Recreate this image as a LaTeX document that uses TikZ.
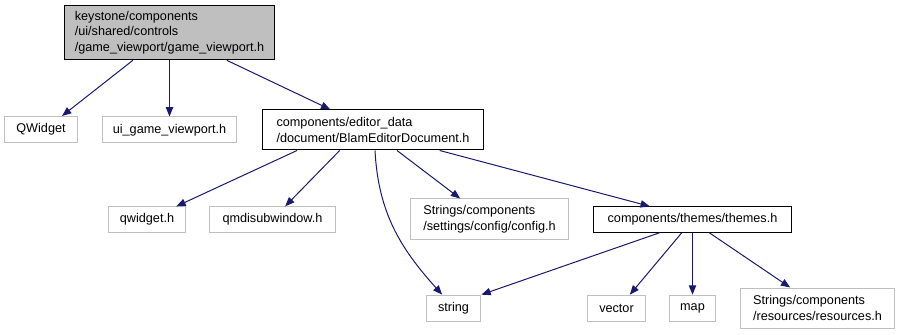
\documentclass[tikz,border=0pt]{standalone}
\usepackage{fontspec}
\setmainfont{Liberation Sans}
\usepackage{xcolor}
\definecolor{edgeblue}{RGB}{25,25,112}
\definecolor{boxgray}{RGB}{191,191,191}
\usetikzlibrary{arrows.meta,positioning}

\begin{document}
\begin{tikzpicture}[x=0.75pt, y=-0.75pt,
    filebox/.style={rectangle, draw=black, line width=0.75pt, inner sep=0pt, align=left,
                    font=\fontsize{9.5}{11.6}\selectfont},
    extbox/.style={filebox, draw=boxgray},
    dep/.style={-{Triangle[length=7pt,width=5.5pt]}, edgeblue, line width=0.75pt}
  ]
    \useasboundingbox (0,0) rectangle (901,335);

    % Top level file
    \node[filebox, fill=boxgray, minimum width=158pt, minimum height=41pt] (root) at (169.5,32.5)
      {keystone/components\\/ui/shared/controls\\/game\_viewport/game\_viewport.h};

    % First row
    \node[extbox, minimum width=55pt, minimum height=19.5pt]  (qwidget) at (41,129.5) {QWidget};
    \node[extbox, minimum width=101pt, minimum height=19.5pt] (uigv)    at (169.5,130) {ui\_game\_viewport.h};
    \node[filebox, minimum width=166pt, minimum height=30pt]  (blam)    at (373,130)
      {components/editor\_data\\/document/BlamEditorDocument.h};

    % Second row
    \node[extbox, minimum width=58pt, minimum height=19pt]   (qwidgeth) at (147,219.5) {qwidget.h};
    \node[extbox, minimum width=94pt, minimum height=19pt]   (qmdi)     at (272.5,219.5) {qmdisubwindow.h};
    \node[extbox, minimum width=119pt, minimum height=30pt]  (config)   at (489.5,219)
      {Strings/components\\/settings/config/config.h};
    \node[filebox, minimum width=149pt, minimum height=19pt] (themes)   at (692.5,219.5) {components/themes/themes.h};

    % Third row
    \node[extbox, minimum width=41pt, minimum height=20pt]   (string)    at (453.5,308.5) {string};
    \node[extbox, minimum width=43pt, minimum height=20pt]   (vector)    at (616.5,308.5) {vector};
    \node[extbox, minimum width=35pt, minimum height=20pt]   (map)       at (692.5,308.5) {map};
    \node[extbox, minimum width=116pt, minimum height=30pt]  (resources) at (817.5,308)
      {Strings/components\\/resources/resources.h};

    % Includes of the top level file
    \draw[dep] ([xshift=-27.5pt]root.south) -- ([xshift=15.75pt]qwidget.north);
    \draw[dep] (root.south) -- (uigv.north);
    \draw[dep] ([xshift=43pt]root.south) -- ([xshift=-32pt]blam.north);

    % Includes of BlamEditorDocument.h
    \draw[dep] ([xshift=-57pt]blam.south) -- ([xshift=22pt]qwidgeth.north);
    \draw[dep] ([xshift=-25pt]blam.south) -- ([xshift=9.5pt]qmdi.north);
    \draw[dep] ([xshift=1.5pt]blam.south) to[out=-87,in=132] ([xshift=-8.5pt]string.north);
    \draw[dep] ([xshift=18pt]blam.south) -- ([xshift=-22pt]config.north);
    \draw[dep] ([xshift=50pt]blam.south) -- ([xshift=-32pt]themes.north);

    % Includes of themes.h
    \draw[dep] ([xshift=-24.5pt]themes.south) -- (string.north east);
    \draw[dep] ([xshift=-8pt]themes.south) -- ([xshift=10pt]vector.north);
    \draw[dep] (themes.south) -- (map.north);
    \draw[dep] ([xshift=12.5pt]themes.south) -- ([xshift=-20.5pt]resources.north);
\end{tikzpicture}
\end{document}
